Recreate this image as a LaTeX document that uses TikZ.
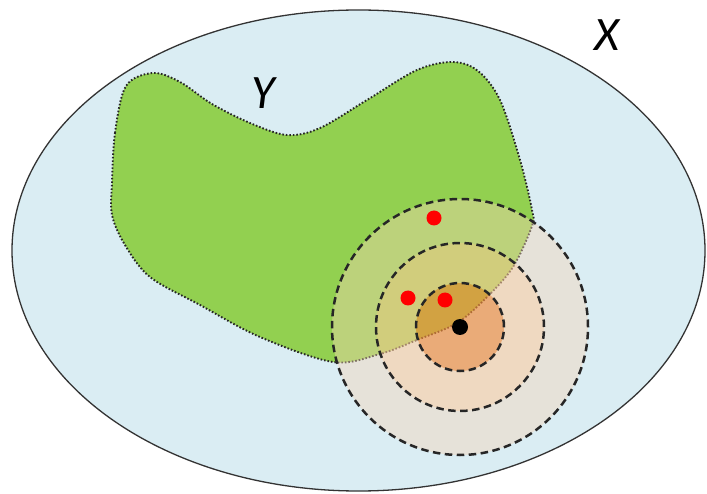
\documentclass[tikz,border=0pt]{standalone}
\usepackage{fontspec}
\setsansfont{Carlito}
\usetikzlibrary{positioning}

\definecolor{setblue}{RGB}{218,237,243}
\definecolor{blobgreen}{RGB}{146,208,80}
\definecolor{ringouter}{RGB}{247,213,183}
\definecolor{ringmid}{RGB}{255,203,157}
\definecolor{ringinner}{RGB}{242,140,60}

\begin{document}
\begin{tikzpicture}[
    x=1pt, y=-1pt,
    setline/.style={draw=black!80, line width=1.3pt, fill=setblue},
    region/.style={draw=black!85, line width=1.9pt,
                   dash pattern=on 1.6pt off 1.9pt, fill=blobgreen},
    ball/.style={draw=black!85, line width=2.5pt, dash pattern=on 7.5pt off 4.5pt},
    pt/.style={circle, inner sep=0pt, minimum size=15pt},
    setlabel/.style={font=\fontsize{48}{56}\selectfont\sffamily\itshape}
  ]
  \useasboundingbox (0,0) rectangle (707,494);

  % the space X
  \draw[setline] (358.5,250.5) ellipse [x radius=346.5pt, y radius=240.5pt];
  \node[setlabel] (labx) at (607,35) {X};

  % the set Y
  \draw[region] plot[smooth cycle, tension=0.55] coordinates {
    (112,183) (115,133) (126,86) (153,73) (180,82) (212,104) (250,123)
    (287,135) (320,128) (367,100) (417,70) (453,62) (478,71) (500,100)
    (520,160) (532,210) (532,226) (513,267) (487,297) (457,323) (417,340)
    (380,354) (333,362) (260,337) (200,305) (150,277) (125,245) (112,215)};
  \node[setlabel] (laby) at (263,93) {Y};

  % balls round the point
  \coordinate (c) at (460,327);
  \fill[ringouter, fill opacity=0.42, even odd rule]
    (c) circle (128pt) (c) circle (84pt);
  \fill[ringmid, fill opacity=0.58, even odd rule]
    (c) circle (84pt) (c) circle (44pt);
  \fill[ringinner, fill opacity=0.67] (c) circle (44pt);
  \foreach \r in {44,84,128}
    \draw[ball] (c) circle (\r pt);

  % sample points
  \node[pt, fill=red] (s1) at (434,218) {};
  \node[pt, fill=red] (s2) at (408,298) {};
  \node[pt, fill=red] (s3) at (445,300) {};
  \node[pt, fill=black, minimum size=16pt] (p) at (c) {};
\end{tikzpicture}
\end{document}
